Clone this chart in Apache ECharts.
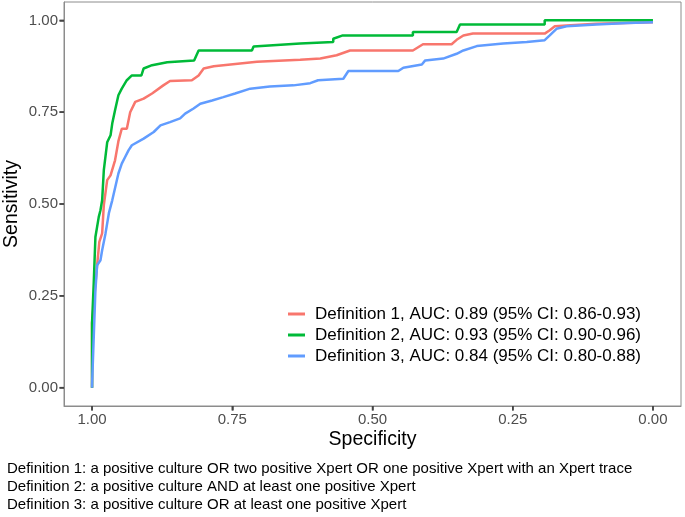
<!DOCTYPE html>
<html>
<head>
<meta charset="utf-8">
<script src="https://cdn.jsdelivr.net/npm/echarts@6/dist/echarts.min.js"></script>
<style>
html,body{margin:0;padding:0;background:#fff;}
#chart{width:685px;height:517px;}
</style>
</head>
<body>
<div id="chart"></div>
<script>
var tickValues = [0, 0.25, 0.5, 0.75, 1];
var seriesNames = [
  'Definition 1, AUC: 0.89 (95% CI: 0.86-0.93)',
  'Definition 2, AUC: 0.93 (95% CI: 0.90-0.96)',
  'Definition 3, AUC: 0.84 (95% CI: 0.80-0.88)'
];
var captionLines = [
  'Definition 1: a positive culture OR two positive Xpert OR one positive Xpert with an Xpert trace',
  'Definition 2: a positive culture AND at least one positive Xpert',
  'Definition 3: a positive culture OR at least one positive Xpert'
];
// [specificity, sensitivity]
var def1 = [
  [1.000,0.000],[1.000,0.176],[0.991,0.333],[0.987,0.397],[0.982,0.420],[0.979,0.497],
  [0.973,0.565],[0.967,0.578],[0.959,0.619],[0.953,0.671],[0.947,0.705],[0.938,0.705],
  [0.932,0.750],[0.923,0.778],[0.908,0.787],[0.893,0.801],[0.873,0.823],[0.861,0.835],
  [0.822,0.837],[0.810,0.850],[0.801,0.869],[0.783,0.875],[0.706,0.887],[0.629,0.893],
  [0.593,0.896],[0.564,0.905],[0.540,0.918],[0.428,0.918],[0.410,0.935],[0.359,0.935],
  [0.350,0.947],[0.338,0.959],[0.321,0.964],[0.193,0.964],[0.184,0.973],[0.175,0.984],
  [0.154,0.986],[0.101,0.991],[0.000,0.995]
];
var def2 = [
  [1.000,0.000],[1.000,0.176],[0.997,0.284],[0.994,0.410],[0.988,0.465],[0.985,0.483],
  [0.982,0.510],[0.979,0.592],[0.973,0.668],[0.967,0.687],[0.964,0.719],[0.959,0.755],
  [0.953,0.796],[0.947,0.814],[0.938,0.837],[0.929,0.850],[0.912,0.850],[0.908,0.869],
  [0.893,0.878],[0.866,0.886],[0.818,0.891],[0.810,0.918],[0.715,0.918],[0.712,0.929],
  [0.629,0.937],[0.570,0.941],[0.570,0.950],[0.553,0.959],[0.428,0.959],[0.428,0.968],
  [0.350,0.968],[0.344,0.989],[0.193,0.989],[0.193,1.000],[0.000,1.000]
];
var def3 = [
  [1.000,0.000],[1.000,0.007],[0.994,0.265],[0.991,0.333],[0.985,0.347],[0.982,0.374],
  [0.976,0.420],[0.970,0.475],[0.964,0.510],[0.953,0.583],[0.947,0.610],[0.941,0.628],
  [0.935,0.646],[0.929,0.660],[0.908,0.678],[0.890,0.696],[0.878,0.714],[0.861,0.723],
  [0.843,0.733],[0.834,0.746],[0.819,0.760],[0.807,0.773],[0.786,0.782],[0.766,0.791],
  [0.745,0.801],[0.718,0.814],[0.683,0.820],[0.641,0.823],[0.611,0.829],[0.597,0.837],
  [0.552,0.841],[0.543,0.862],[0.454,0.862],[0.445,0.871],[0.412,0.880],[0.406,0.891],
  [0.374,0.896],[0.350,0.909],[0.338,0.918],[0.314,0.930],[0.267,0.937],[0.225,0.941],
  [0.193,0.946],[0.184,0.959],[0.172,0.977],[0.154,0.984],[0.101,0.989],[0.045,0.993],
  [0.000,0.995]
];
var colors = ['#F8766D', '#00BA38', '#619CFF'];
var dataSets = [def1, def2, def3];
var axisMin = -0.05, axisMax = 1.05;

var chart = echarts.init(document.getElementById('chart'), null, {renderer: 'canvas'});
var fontFam = "'Liberation Sans', Arial, sans-serif";

var lineSeries = seriesNames.map(function (n, i) {
  return {
    name: n, type: 'line', data: dataSets[i], showSymbol: false, symbol: 'none',
    color: colors[i], lineStyle: {width: 2.5, color: colors[i]}, z: 2 + i
  };
});
// tick marks drawn through the axes' own coordinate conversion
var tickSeries = {
  type: 'custom', silent: true, clip: false, z: 50,
  data: tickValues.map(function (v) { return [v, v]; }),
  encode: {x: 0, y: 1},
  renderItem: function (params, api) {
    var v = api.value(0);
    var px = api.coord([v, axisMin]);
    var py = api.coord([axisMax, v]);
    return {
      type: 'group',
      children: [
        {type: 'rect', shape: {x: px[0] - 0.75, y: px[1], width: 1.5, height: 4.5},
          style: {fill: '#444'}},
        {type: 'rect', shape: {x: py[0] - 4.5, y: py[1] - 0.75, width: 4.5, height: 1.5},
          style: {fill: '#444'}}
      ]
    };
  }
};

var option = {
  animation: false,
  textStyle: {fontFamily: fontFam},
  title: {
    text: captionLines.join('\n'),
    left: 7, top: 460, padding: 0,
    textStyle: {fontSize: 15, fontWeight: 'normal', color: '#000', lineHeight: 18, fontFamily: fontFam}
  },
  grid: {left: 64, right: 4, top: 2, bottom: 111, show: true,
    borderColor: '#8c8c8c', borderWidth: 1, containLabel: false, outerBoundsMode: 'none'},
  legend: {
    orient: 'vertical', left: 288, top: 304,
    itemWidth: 17, itemHeight: 3, itemGap: 1, icon: 'rect', padding: 0,
    textStyle: {fontSize: 17, color: '#000', lineHeight: 20, fontFamily: fontFam, padding: [0, 0, 0, 5]},
    data: seriesNames
  },
  xAxis: {
    type: 'value', inverse: true, min: axisMin, max: axisMax,
    name: 'Specificity', nameLocation: 'middle', nameGap: 24, nameMoveOverlap: false,
    nameTextStyle: {fontSize: 19.5, color: '#000', fontFamily: fontFam},
    axisLine: {show: true, onZero: false, lineStyle: {color: '#8c8c8c', width: 1}},
    axisTick: {show: true, inside: false, length: 4.5, customValues: tickValues,
      lineStyle: {color: '#444', width: 1.5}},
    axisLabel: {customValues: tickValues, fontSize: 15, color: '#4d4d4d', margin: 6,
      formatter: function (v) { return v.toFixed(2); }},
    splitLine: {show: false}
  },
  yAxis: {
    type: 'value', min: axisMin, max: axisMax,
    name: 'Sensitivity', nameLocation: 'middle', nameGap: 42, nameMoveOverlap: false,
    nameTextStyle: {fontSize: 19.5, color: '#000', fontFamily: fontFam},
    axisLine: {show: true, onZero: false, lineStyle: {color: '#8c8c8c', width: 1}},
    axisTick: {show: true, inside: false, length: 4.5, customValues: tickValues,
      lineStyle: {color: '#444', width: 1.5}},
    axisLabel: {customValues: tickValues, fontSize: 15, color: '#4d4d4d', margin: 6,
      formatter: function (v) { return v.toFixed(2); }},
    splitLine: {show: false}
  },
  series: lineSeries.concat([tickSeries])
};
chart.setOption(option);
</script>
</body>
</html>
